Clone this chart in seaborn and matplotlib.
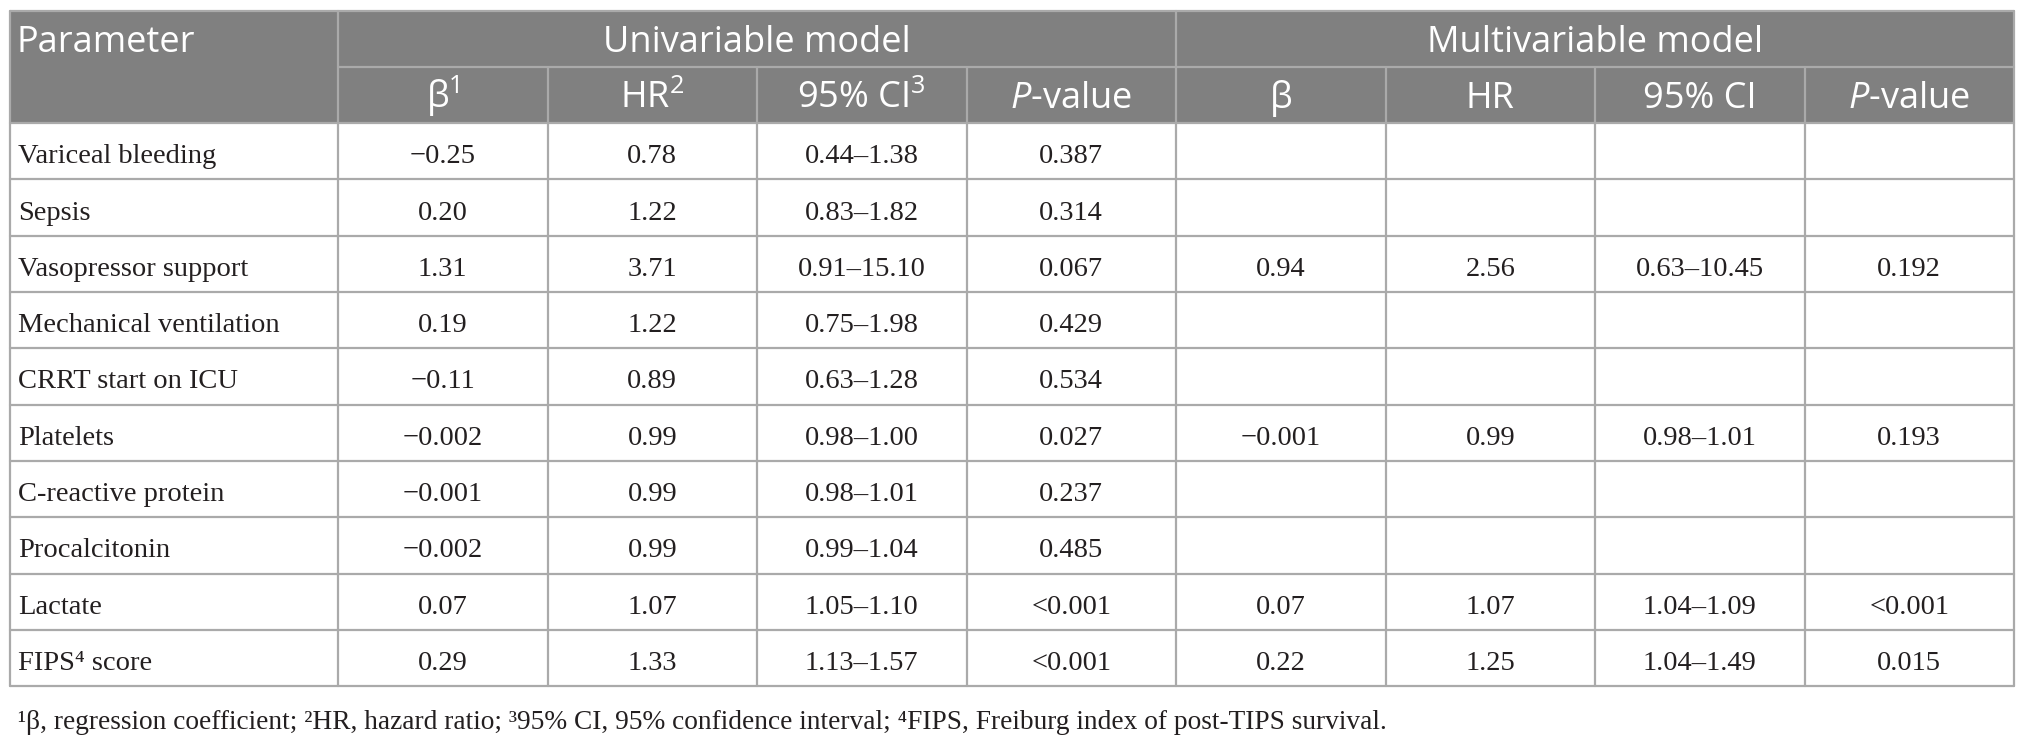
import matplotlib
matplotlib.use('Agg')
import matplotlib.pyplot as plt
import seaborn as sns
import pandas as pd

sns.set_theme(style='white')
plt.rcParams['mathtext.fontset'] = 'custom'
plt.rcParams['mathtext.rm'] = 'Open Sans'
plt.rcParams['mathtext.it'] = 'Open Sans:italic'

# table data
parameters = ['Variceal bleeding', 'Sepsis', 'Vasopressor support', 'Mechanical ventilation',
              'CRRT start on ICU', 'Platelets', 'C-reactive protein', 'Procalcitonin',
              'Lactate', 'FIPS\u2074 score']
uni_beta = ['\u22120.25', '0.20', '1.31', '0.19', '\u22120.11', '\u22120.002', '\u22120.001', '\u22120.002', '0.07', '0.29']
uni_hr = ['0.78', '1.22', '3.71', '1.22', '0.89', '0.99', '0.99', '0.99', '1.07', '1.33']
uni_ci = ['0.44\u20131.38', '0.83\u20131.82', '0.91\u201315.10', '0.75\u20131.98', '0.63\u20131.28',
          '0.98\u20131.00', '0.98\u20131.01', '0.99\u20131.04', '1.05\u20131.10', '1.13\u20131.57']
uni_p = ['0.387', '0.314', '0.067', '0.429', '0.534', '0.027', '0.237', '0.485', '<0.001', '<0.001']
multi_beta = ['', '', '0.94', '', '', '\u22120.001', '', '', '0.07', '0.22']
multi_hr = ['', '', '2.56', '', '', '0.99', '', '', '1.07', '1.25']
multi_ci = ['', '', '0.63\u201310.45', '', '', '0.98\u20131.01', '', '', '1.04\u20131.09', '1.04\u20131.49']
multi_p = ['', '', '0.192', '', '', '0.193', '', '', '<0.001', '0.015']

group_labels = ['Univariable model', 'Multivariable model']
sub_labels = ['\u03b2$^{1}$', 'HR$^{2}$', '95% CI$^{3}$', '$\\mathit{P}$-value',
              '\u03b2', 'HR', '95% CI', '$\\mathit{P}$-value']
footnote = ('\u00b9\u03b2, regression coefficient; \u00b2HR, hazard ratio; \u00b395% CI, 95% confidence '
            'interval; \u2074FIPS, Freiburg index of post-TIPS survival.')

df = pd.DataFrame({'Parameter': parameters, 'b1': uni_beta, 'hr1': uni_hr, 'ci1': uni_ci, 'p1': uni_p,
                   'b2': multi_beta, 'hr2': multi_hr, 'ci2': multi_ci, 'p2': multi_p})

# layout (pixels)
W, H = 2027, 749
left, right = 10, 2014
first_w = 328
col_w = (right - left - first_w) / 8
edges = [left, left + first_w] + [left + first_w + col_w * (i + 1) for i in range(8)]
top = 10.5
row_h = 56.3
n_rows = len(df) + 2
bottom = top + row_h * n_rows

header_bg = '#808080'
line_c = '#aaaaaa'
txt_c = '#231f20'
sans = ['Open Sans', 'DejaVu Sans']
serif = ['Liberation Serif', 'DejaVu Serif']
head_fs = 26
body_fs = 20.5

fig = plt.figure(figsize=(W / 100, H / 100), dpi=100)
ax = fig.add_axes([0, 0, 1, 1])
ax.set_xlim(0, W)
ax.set_ylim(H, 0)
ax.axis('off')

# header background
ax.add_patch(plt.Rectangle((left, top), right - left, 2 * row_h, color=header_bg, lw=0, zorder=1))

# horizontal lines
for i in range(n_rows + 1):
    y = top + i * row_h
    x_start = edges[1] if i == 1 else left
    ax.plot([x_start, right], [y, y], color=line_c, lw=1.6, zorder=2)

# vertical lines
for j, x in enumerate(edges):
    y_start = top if j in (0, 1, 5, 9) else top + row_h
    ax.plot([x, x], [y_start, bottom], color=line_c, lw=1.6, zorder=2)

# header texts (baseline placed so cap height is centred in the row)
head_off = 13
ax.text(left + 7, top + row_h / 2 + head_off, 'Parameter', ha='left', va='baseline',
        fontsize=head_fs, color='white', family=sans, zorder=3)
for g, lab in enumerate(group_labels):
    xc = (edges[1 + 4 * g] + edges[5 + 4 * g]) / 2
    ax.text(xc, top + row_h / 2 + head_off, lab, ha='center', va='baseline',
            fontsize=head_fs, color='white', family=sans, zorder=3)
for k, lab in enumerate(sub_labels):
    xc = (edges[1 + k] + edges[2 + k]) / 2
    ax.text(xc, top + 1.5 * row_h + head_off, lab, ha='center', va='baseline',
            fontsize=head_fs, color='white', family=sans, zorder=3)

# body texts
body_off = 12
cols = ['b1', 'hr1', 'ci1', 'p1', 'b2', 'hr2', 'ci2', 'p2']
for i, row in df.iterrows():
    yb = top + (i + 2.5) * row_h + body_off
    ax.text(left + 8, yb, row['Parameter'], ha='left', va='baseline', fontsize=body_fs,
            color=txt_c, family=serif, zorder=3)
    for k, c in enumerate(cols):
        xc = (edges[1 + k] + edges[2 + k]) / 2
        ax.text(xc, yb, row[c], ha='center', va='baseline', fontsize=body_fs,
                color=txt_c, family=serif, zorder=3)

ax.text(left + 8, bottom + 36, footnote, ha='left', va='center', fontsize=19.7,
        color=txt_c, family=serif)

fig.savefig('out.png', dpi=100)
